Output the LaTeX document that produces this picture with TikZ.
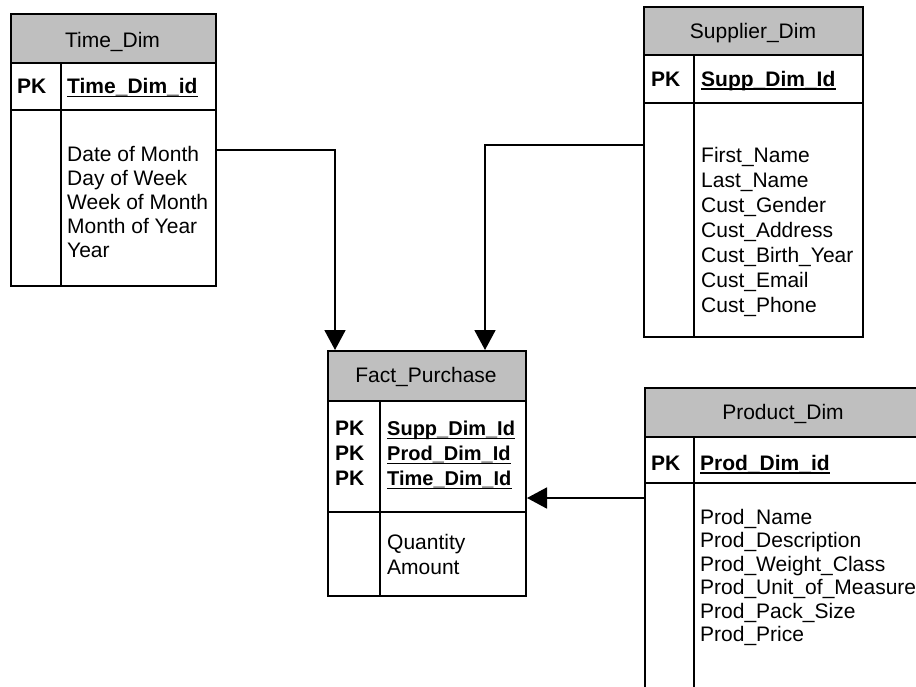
\documentclass[tikz,border=0pt]{standalone}
\usepackage{fontspec}
\setmainfont{Liberation Sans}
\usetikzlibrary{arrows.meta,calc}

\begin{document}
\begin{tikzpicture}[x=1pt,y=-1pt,
  frame/.style={draw=black, line width=2pt, fill=white, inner sep=0pt, anchor=north west},
  headbox/.style={draw=black, line width=2pt, fill=black!25, inner sep=0pt, anchor=north west},
  rule/.style={line width=2pt},
  txt/.style={font=\fontsize{21}{25}\selectfont, inner sep=0pt},
  title/.style={txt, anchor=base},
  attr/.style={txt, anchor=base west},
  pk/.style={txt, font=\fontsize{21}{25}\selectfont\bfseries, anchor=base west},
  factkey/.style={pk, font=\fontsize{20}{24}\selectfont\bfseries},
  keyline/.style={line width=1.8pt},
  conn/.style={line width=1.8pt, -{Triangle[length=20pt,width=21pt]}},
]
\useasboundingbox (0,0) rectangle (916,686);
\clip (0,0) rectangle (916,686);
\fill[white] (0,0) rectangle (916,686);

% Text nodes are placed by their baseline (about 7.5 units below the visual middle).

% ---------------- Time_Dim ----------------
\node[frame, minimum width=205pt, minimum height=272pt] (time) at (10,13) {};
\node[headbox, minimum width=205pt, minimum height=49pt] (timehead) at (10,13) {};
\draw[rule] (10,110) -- (215,110);
\draw[rule] (61,62) -- (61,285);
\node[title] (timetitle) at (112.5,47) {Time\_Dim};
\node[pk] (timepk) at (17,93.5) {PK};
\node[pk] (timekey) at (67,93.5) {Time\_Dim\_id};
\draw[keyline] ([yshift=-3pt]timekey.base west) -- ([yshift=-3pt]timekey.base east);
\node[attr] (ta1) at (67,161) {Date of Month};
\node[attr] (ta2) at (67,185) {Day of Week};
\node[attr] (ta3) at (67,209) {Week of Month};
\node[attr] (ta4) at (67,233) {Month of Year};
\node[attr] (ta5) at (67,257) {Year};

% ---------------- Supplier_Dim ----------------
\node[frame, minimum width=219pt, minimum height=330pt] (supp) at (643,6) {};
\node[headbox, minimum width=219pt, minimum height=48pt] (supphead) at (643,6) {};
\draw[rule] (643,103) -- (862,103);
\draw[rule] (694,54) -- (694,336);
\node[title] (supptitle) at (753,38.5) {Supplier\_Dim};
\node[pk] (supppk) at (651,86) {PK};
\node[pk] (suppkey) at (701,86) {Supp\_Dim\_Id};
\draw[keyline] ([yshift=-3pt]suppkey.base west) -- ([yshift=-3pt]suppkey.base east);
\node[attr] (sa1) at (701,162) {First\_Name};
\node[attr] (sa2) at (701,187) {Last\_Name};
\node[attr] (sa3) at (701,212) {Cust\_Gender};
\node[attr] (sa4) at (701,237) {Cust\_Address};
\node[attr] (sa5) at (701,262) {Cust\_Birth\_Year};
\node[attr] (sa6) at (701,287) {Cust\_Email};
\node[attr] (sa7) at (701,312) {Cust\_Phone};

% ---------------- Fact_Purchase ----------------
\node[frame, minimum width=198pt, minimum height=245pt] (fact) at (327,350) {};
\node[headbox, minimum width=198pt, minimum height=50pt] (facthead) at (327,350) {};
\draw[rule] (327,512) -- (525,512);
\draw[rule] (380,400) -- (380,595);
\node[title] (facttitle) at (426,382) {Fact\_Purchase};
\node[pk] (fpk1) at (335,435.5) {PK};
\node[pk] (fpk2) at (335,460.5) {PK};
\node[pk] (fpk3) at (335,485.5) {PK};
\node[factkey] (fkey1) at (387,435.5) {Supp\_Dim\_Id};
\node[factkey] (fkey2) at (387,460.5) {Prod\_Dim\_Id};
\node[factkey] (fkey3) at (387,485.5) {Time\_Dim\_Id};
\foreach \k in {fkey1,fkey2,fkey3}
  \draw[keyline] ([yshift=-3pt]\k.base west) -- ([yshift=-3pt]\k.base east);
\node[attr] (fa1) at (387,549.5) {Quantity};
\node[attr] (fa2) at (387,574.5) {Amount};

% ---------------- Product_Dim ----------------
\node[frame, minimum width=280pt, minimum height=320pt] (prod) at (644,387) {};
\node[headbox, minimum width=280pt, minimum height=49pt] (prodhead) at (644,387) {};
\draw[rule] (644,483) -- (924,483);
\draw[rule] (694,436) -- (694,707);
\node[title] (prodtitle) at (783,419) {Product\_Dim};
\node[pk] (prodpk) at (651,470) {PK};
\node[pk] (prodkey) at (700,470) {Prod\_Dim\_id};
\draw[keyline] ([yshift=-3pt]prodkey.base west) -- ([yshift=-3pt]prodkey.base east);
\node[attr] (pa1) at (700,524) {Prod\_Name};
\node[attr] (pa2) at (700,547.5) {Prod\_Description};
\node[attr] (pa3) at (700,571) {Prod\_Weight\_Class};
\node[attr] (pa4) at (700,594.5) {Prod\_Unit\_of\_Measure};
\node[attr] (pa5) at (700,618) {Prod\_Pack\_Size};
\node[attr] (pa6) at (700,641.5) {Prod\_Price};

% ---------------- relationships ----------------
\coordinate (suppout) at (643,145);
\coordinate (prodout) at (644,498);
\draw[conn] (time.east) -| ([xshift=8pt]fact.north west);
\draw[conn] (suppout) -| ([xshift=-42pt]fact.north east);
\draw[conn] (prodout) -- (prodout -| fact.east);
\end{tikzpicture}
\end{document}
